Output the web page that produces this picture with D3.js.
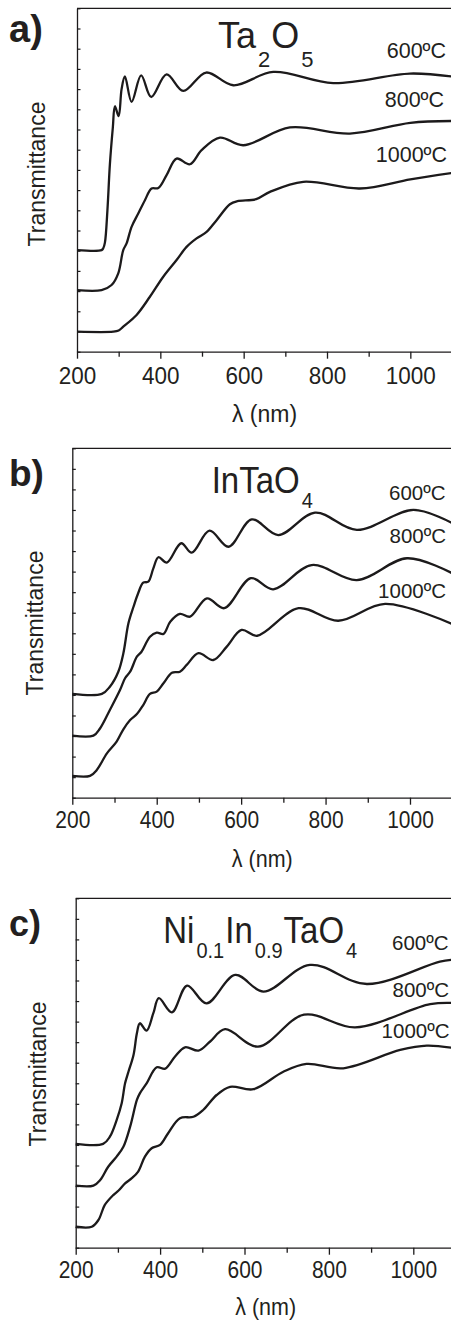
<!DOCTYPE html>
<html>
<head>
<meta charset="utf-8">
<script src="https://cdn.jsdelivr.net/npm/d3@7"></script>
<style>
  html, body { margin: 0; padding: 0; background: #fff; }
  svg { display: block; }
  text { font-family: "Liberation Sans", Arial, Helvetica, sans-serif; fill: #231f20; }
</style>
</head>
<body>
<svg id="fig" width="451" height="1324"></svg>
<script>
// Optical transmittance spectra (offset for clarity) of films annealed at three temperatures.
// Each series is a list of [wavelength (nm), transmittance (a.u., offset)] pairs.

const temperatures = ["600ºC", "800ºC", "1000ºC"];
const xMajorTicks = [200, 400, 600, 800, 1000];
const xMinorTicks = [300, 500, 700, 900, 1100];
const yTicks = d3.range(0, 18, 1);

// a) Ta2O5
const ta2o5_600 = [[200,5.03],[259,5.03],[263,5.12],[267,5.4],[273,7.0],[279,9.3],[286,11.1],[291,12.15],[300,11.66],[307,13.0],[315,13.63],[331,12.37],[354,13.68],[378,12.61],[415,13.73],[455,12.91],[510,13.82],[575,13.19],[671,13.85],[815,13.3],[999,13.77],[1100,13.62]];
const ta2o5_800 = [[200,3.05],[259,3.05],[283,3.3],[299,3.88],[311,5.03],[319,5.36],[331,6.18],[347,6.84],[363,7.5],[379,8.08],[395,8.1],[415,8.74],[439,9.56],[471,9.28],[499,9.98],[543,10.6],[599,10.22],[711,11.1],[855,10.8],[1000,11.33],[1100,11.42]];
const ta2o5_1000 = [[200,0.99],[287,0.99],[300,1.05],[311,1.24],[343,1.82],[375,2.72],[407,3.71],[439,4.54],[463,5.19],[487,5.61],[511,5.93],[535,6.51],[567,7.3],[585,7.45],[630,7.55],[663,7.91],[743,8.41],[879,8.08],[1000,8.53],[1100,8.85]];

// b) InTaO4
const intao4_600 = [[200,5.05],[270,5.05],[289,5.4],[309,6.13],[321,7.03],[333,8.49],[345,9.29],[356,9.95],[368,10.46],[380,10.51],[392,11.16],[404,11.7],[424,11.44],[458,12.38],[483,11.92],[525,12.99],[570,12.21],[625,13.54],[688,12.78],[775,13.87],[874,13.03],[1008,14.0],[1100,13.36]];
const intao4_800 = [[200,3.02],[250,3.02],[266,3.38],[289,4.27],[313,5.24],[325,5.81],[337,6.13],[353,6.86],[364,7.1],[384,7.83],[400,8.03],[416,7.97],[432,8.56],[455,8.94],[479,8.81],[519,9.7],[560,9.22],[623,10.68],[676,10.14],[767,11.32],[874,10.59],[993,11.65],[1100,10.92]];
const intao4_1000 = [[200,1.06],[242,1.06],[258,1.35],[282,2.16],[305,2.73],[321,3.33],[337,3.78],[353,4.07],[368,4.51],[384,5.05],[400,5.16],[416,5.57],[436,6.08],[455,6.13],[471,6.46],[499,7.03],[534,6.7],[566,7.35],[601,8.16],[638,7.88],[736,9.22],[830,8.61],[941,9.43],[1100,8.45]];

// c) Ni0.1In0.9TaO4
const niintao4_600 = [[200,5.05],[265,5.05],[281,5.4],[297,6.21],[309,7.03],[317,8.0],[325,8.56],[337,9.38],[345,10.43],[352,10.92],[368,10.56],[384,11.41],[397,12.14],[428,11.45],[464,12.75],[510,11.89],[578,13.27],[645,12.46],[755,13.76],[890,12.83],[1063,13.92],[1100,14.02]];
const niintao4_800 = [[200,3.02],[242,3.02],[258,3.29],[277,3.94],[297,4.43],[313,4.91],[329,5.89],[345,7.19],[352,7.51],[368,8.0],[392,8.78],[412,8.71],[435,9.29],[459,9.75],[491,9.59],[518,10.02],[554,10.63],[632,9.78],[741,11.34],[862,10.72],[1040,11.85],[1100,11.9]];
const niintao4_1000 = [[200,1.02],[238,1.02],[254,1.35],[269,2.08],[289,2.56],[301,2.77],[317,3.13],[333,3.38],[348,3.7],[364,4.43],[380,4.84],[400,5.0],[419,5.57],[447,6.3],[479,6.37],[502,6.7],[534,7.43],[566,7.83],[621,7.71],[692,8.56],[747,8.94],[834,8.73],[969,9.62],[1032,9.83],[1100,9.7]];

// Layout of the three stacked panels
const panels = [
  {
    letter: "a)", series: [ta2o5_600, ta2o5_800, ta2o5_1000],
    title: [["Ta", false], ["2", true], ["O", false], ["5", true]],
    x0: 77, x1: 452, yTop: 8.3, yBottom: 351.7,
    letterBase: 41.5, letterSize: 38,
    titleX: 218, titleBase: 47.7, titleSize: 36, subSize: 22, subDy: 19, titleSy: 1.0,
    tempX: [446, 444, 447], tempBase: [58.3, 107, 161.7], tempSize: 21.5,
    tickSize: 22.5, tickBase: 384, xlabSize: 23, xlabBase: 422, xlabSy: 1.05,
    ylabX: 45, ylabY: 174
  },
  {
    letter: "b)", series: [intao4_600, intao4_800, intao4_1000],
    title: [["InTaO", false], ["4", true]],
    x0: 72.3, x1: 452.2, yTop: 448.3, yBottom: 797.7,
    letterBase: 486, letterSize: 37,
    titleX: 211.7, titleBase: 493.3, titleSize: 33, subSize: 20, subDy: 13.6, titleSy: 1.1,
    tempX: [445.5, 446, 446], tempBase: [500, 543, 598], tempSize: 20.5,
    tickSize: 21, tickBase: 828.3, xlabSize: 21.5, xlabBase: 867, xlabSy: 1.1,
    ylabX: 42.7, ylabY: 623
  },
  {
    letter: "c)", series: [niintao4_600, niintao4_800, niintao4_1000],
    title: [["Ni", false], ["0.1", true], ["In", false], ["0.9", true], ["TaO", false], ["4", true]],
    x0: 75.7, x1: 455.5, yTop: 898.3, yBottom: 1247.7,
    letterBase: 936, letterSize: 36,
    titleX: 163.3, titleBase: 943.3, titleSize: 33, subSize: 20, subDy: 13.6, titleSy: 1.1,
    tempX: [448.5, 449, 449.5], tempBase: [950, 996.5, 1038.3], tempSize: 20.5,
    tickSize: 21, tickBase: 1278.3, xlabSize: 21.5, xlabBase: 1315, xlabSy: 1.1,
    ylabX: 45.7, ylabY: 1074
  }
];

const svg = d3.select("#fig");
const ink = "#1c1a1b";

panels.forEach(p => {
  const x = d3.scaleLinear().domain([200, 1100]).range([p.x0, p.x1]);
  const y = d3.scaleLinear().domain([0, 17]).range([p.yBottom, p.yTop]);
  const g = svg.append("g");

  // frame: top edge and right edge
  g.append("path")
    .attr("d", `M${p.x0},${p.yTop}H${p.x1}V${p.yBottom}`)
    .attr("fill", "none").attr("stroke", ink).attr("stroke-width", 1.3);

  // x axis: labelled major ticks and minor ticks, pointing outward
  const xAxis = g.append("g").attr("transform", `translate(0,${p.yBottom})`)
    .call(d3.axisBottom(x).tickValues(xMajorTicks).tickSize(7).tickSizeOuter(0).tickFormat(d3.format("d")));
  xAxis.select(".domain").attr("stroke", ink).attr("stroke-width", 1.3);
  xAxis.selectAll(".tick line").attr("stroke", ink).attr("stroke-width", 1.3);
  xAxis.selectAll(".tick text")
    .attr("y", null).attr("dy", null)
    .attr("transform", `translate(0,${p.tickBase - p.yBottom}) scale(1,1.1)`)
    .style("font-size", p.tickSize + "px")
    .style("font-family", '"Liberation Sans", Arial, sans-serif')
    .attr("fill", "#231f20");
  const xMinor = g.append("g").attr("transform", `translate(0,${p.yBottom})`)
    .call(d3.axisBottom(x).tickValues(xMinorTicks).tickSize(5).tickFormat(""));
  xMinor.select(".domain").remove();
  xMinor.selectAll(".tick line").attr("stroke", ink).attr("stroke-width", 1.3);

  // y axis: unlabelled inward ticks
  const yAxis = g.append("g").attr("transform", `translate(${p.x0},0)`)
    .call(d3.axisLeft(y).tickValues(yTicks).tickSize(-3.5).tickSizeOuter(0).tickFormat(""));
  yAxis.select(".domain").attr("stroke", ink).attr("stroke-width", 1.3);
  yAxis.selectAll(".tick line").attr("stroke", ink).attr("stroke-width", 1.2);

  // spectra
  const line = d3.line().x(d => x(d[0])).y(d => y(d[1])).curve(d3.curveCatmullRom.alpha(0.5));
  g.selectAll("path.spectrum").data(p.series).join("path")
    .attr("class", "spectrum")
    .attr("d", line)
    .attr("fill", "none").attr("stroke", ink)
    .attr("stroke-width", 2.3).attr("stroke-linejoin", "round");

  // temperature labels
  temperatures.forEach((t, i) => {
    g.append("text")
      .attr("x", p.tempX[i]).attr("y", p.tempBase[i])
      .attr("text-anchor", "end")
      .style("font-size", p.tempSize + "px")
      .text(t);
  });

  // panel letter
  g.append("text")
    .attr("x", 9).attr("y", p.letterBase)
    .style("font-size", p.letterSize + "px").style("font-weight", "bold")
    .text(p.letter);

  // compound formula with subscripts
  const title = g.append("text")
    .attr("transform", `translate(${p.titleX},${p.titleBase}) scale(1,${p.titleSy})`);
  let lowered = false;
  p.title.forEach(([s, sub]) => {
    const ts = title.append("tspan").text(s).style("font-size", (sub ? p.subSize : p.titleSize) + "px");
    if (sub && !lowered) { ts.attr("dy", p.subDy).attr("dx", 2); lowered = true; }
    else if (!sub && lowered) { ts.attr("dy", -p.subDy).attr("dx", 1); lowered = false; }
  });

  // axis titles
  g.append("text")
    .attr("transform", `translate(${p.x0 + (p.x1 - p.x0) / 2},${p.xlabBase}) scale(1,${p.xlabSy})`)
    .attr("text-anchor", "middle")
    .style("font-size", p.xlabSize + "px")
    .text("λ (nm)");
  g.append("text")
    .attr("transform", `translate(${p.ylabX},${p.ylabY}) rotate(-90)`)
    .attr("text-anchor", "middle")
    .style("font-size", "23px")
    .text("Transmittance");
});
</script>
</body>
</html>
